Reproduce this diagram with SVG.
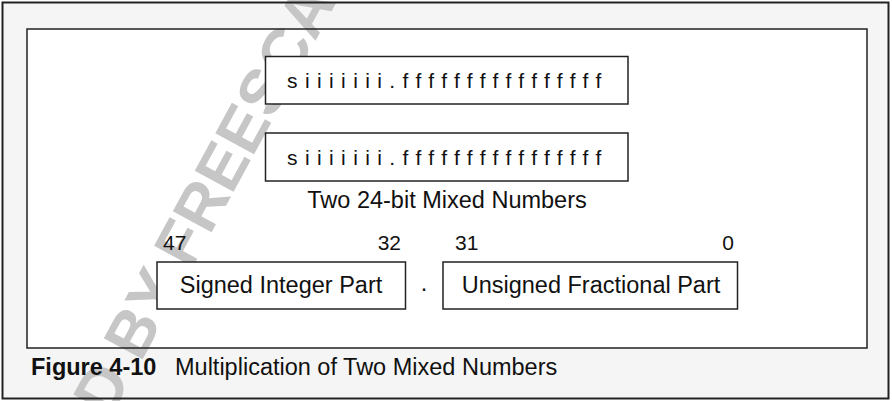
<svg xmlns="http://www.w3.org/2000/svg" width="892" height="401" viewBox="0 0 892 401">
  <style>
    text { font-family: "Liberation Sans", Arial, Helvetica, sans-serif; fill: #111; }
    .lbl { font-size: 23.5px; }
    .num { font-size: 21px; }
    .bits { font-size: 21px; letter-spacing: 7.4px; }
    .box { fill: #fff; stroke: #222; stroke-width: 1.5; }
    .wm { font-size: 64px; font-weight: bold; fill: #c6c6c6; }
    .cap { font-size: 23.5px; }
  </style>
  <g id="background">
    <rect x="2.5" y="2.5" width="886" height="396" fill="#f5f5f5"/>
    <rect x="27" y="29" width="840" height="319" fill="#fff"/>
  </g>
  <g id="watermark">
    <text class="wm" transform="translate(204,200) rotate(-61.5)" x="0" y="22" text-anchor="middle">D BY FREESCA</text>
  </g>
  <g id="frames" fill="none" stroke="#222">
    <rect x="2.5" y="2.5" width="886" height="396" stroke-width="2"/>
    <rect x="27" y="29" width="840" height="319" stroke-width="1.5"/>
  </g>
  <g id="operand1">
    <rect class="box" x="265.5" y="56.5" width="362.5" height="47.5"/>
    <text class="bits" x="287" y="88">siiiiiii.ffffffffffffffff</text>
  </g>
  <g id="operand2">
    <rect class="box" x="265.5" y="133" width="362.5" height="48"/>
    <text class="bits" x="287" y="165">siiiiiii.ffffffffffffffff</text>
  </g>
  <g id="operands-label">
    <text class="lbl" x="447" y="208" text-anchor="middle">Two 24-bit Mixed Numbers</text>
  </g>
  <g id="integer-part">
    <text class="num" x="163" y="250">47</text>
    <text class="num" x="401" y="250" text-anchor="end">32</text>
    <rect class="box" x="157" y="262" width="248.5" height="47"/>
    <text class="lbl" x="281" y="293" text-anchor="middle">Signed Integer Part</text>
  </g>
  <g id="point">
    <text class="lbl" x="424" y="291" text-anchor="middle">.</text>
  </g>
  <g id="fractional-part">
    <text class="num" x="455" y="250">31</text>
    <text class="num" x="734" y="250" text-anchor="end">0</text>
    <rect class="box" x="443" y="262" width="294.5" height="47"/>
    <text class="lbl" x="591" y="293" text-anchor="middle">Unsigned Fractional Part</text>
  </g>
  <g id="connectors"/>
  <g id="caption">
    <text class="cap" x="31" y="375" font-weight="bold">Figure 4-10</text>
    <text class="cap" x="175" y="375">Multiplication of Two Mixed Numbers</text>
  </g>
</svg>
